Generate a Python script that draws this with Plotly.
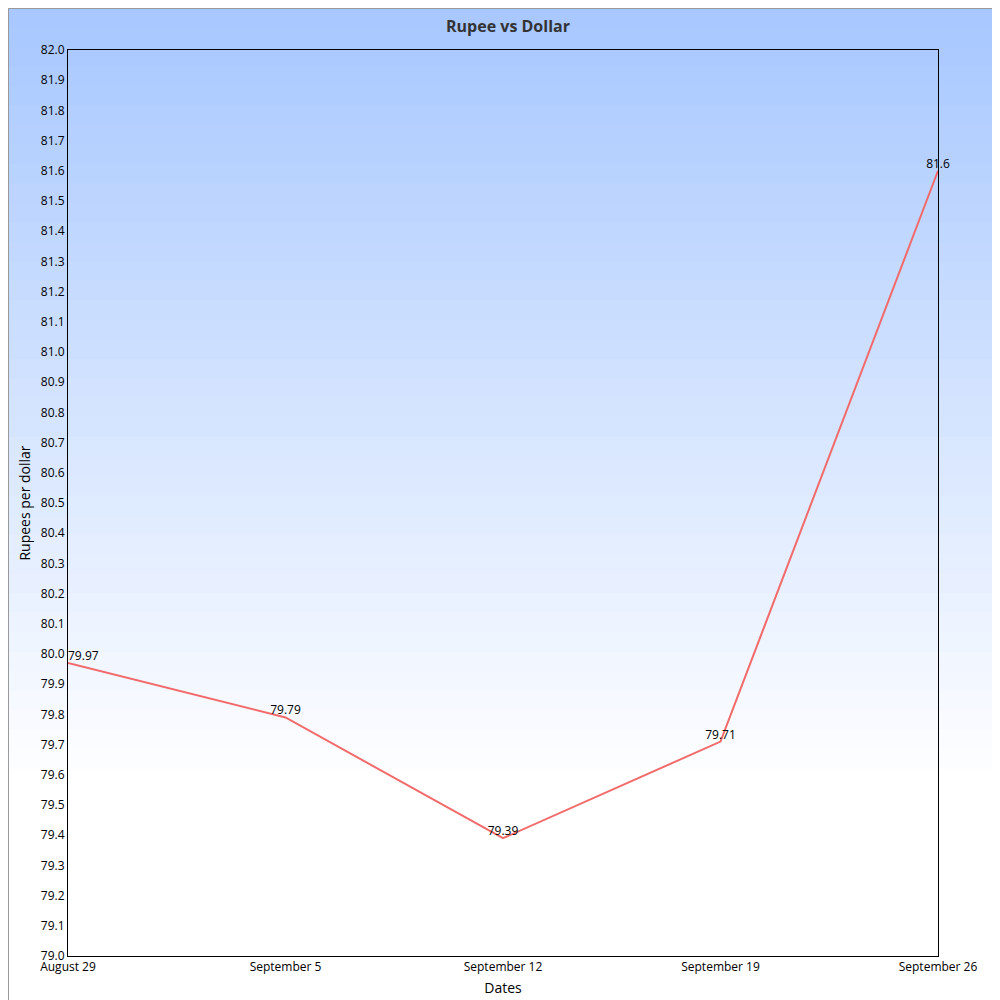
import plotly.graph_objects as go

dates = ["August 29", "September 5", "September 12", "September 19", "September 26"]
rates = [79.97, 79.79, 79.39, 79.71, 81.6]
labels = ["79.97", "79.79", "79.39", "79.71", "81.6"]

positions = list(range(len(dates)))
text_pos = ["top right", "top center", "top center", "top center", "top center"]

fig = go.Figure()
fig.add_trace(go.Scatter(
    x=positions, y=rates, mode="lines+text", text=labels,
    textposition=text_pos, textfont=dict(size=12, color="black"),
    line=dict(color="#f26b6b", width=2), cliponaxis=False, hoverinfo="x+y",
))

# vertical background gradient, light blue at the top fading to white
top, bot = 42, 948
h = bot - top
shapes = []
n = 40
grad_end = 780
for i in range(n):
    p0 = grad_end * i / n
    p1 = grad_end * (i + 1) / n + 2  # overlap to hide seams
    t = i / (n - 1)
    r = int(168 + (255 - 168) * t)
    g = int(200 + (255 - 200) * t)
    b = 255
    shapes.append(dict(type="rect", xref="paper", yref="paper", layer="below",
                       x0=-60 / 870, x1=940 / 870,
                       y0=(bot - p1) / h, y1=(bot - p0) / h,
                       line=dict(width=0), fillcolor=f"rgb({r},{g},{b})"))
# outer border
shapes.append(dict(type="rect", xref="paper", yref="paper", layer="above",
                   x0=-59.5 / 870, x1=939.5 / 870, y0=(bot - 999.5) / h, y1=(bot - 0.5) / h,
                   line=dict(color="#999999", width=1)))

fig.update_layout(
    width=1000, height=1000,
    margin=dict(l=60, r=70, t=42, b=52),
    paper_bgcolor="white", plot_bgcolor="rgba(0,0,0,0)",
    font=dict(family="Open Sans", size=12, color="black"),
    title=dict(text="<b>Rupee vs Dollar</b>", x=0.5, xanchor="center", y=0.982, yanchor="middle",
               font=dict(size=16, color="#333333")),
    showlegend=False, shapes=shapes,
    xaxis=dict(range=[0, 4], tickvals=positions, ticktext=dates, showgrid=False,
               zeroline=False, showline=True, linecolor="black", mirror=True,
               title=dict(text="Dates", standoff=8)),
    yaxis=dict(range=[79, 82], dtick=0.1, tickformat=".1f", showgrid=False,
               zeroline=False, showline=True, linecolor="black", mirror=True,
               title=dict(text="Rupees per dollar", standoff=6)),
)

fig.write_html("out.html")
